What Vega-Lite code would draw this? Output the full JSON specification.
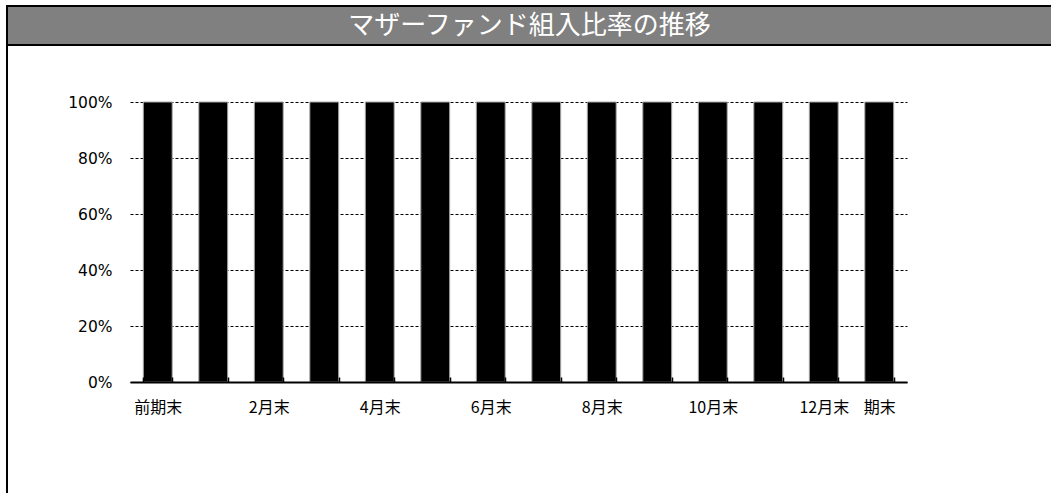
{
  "$schema": "https://vega.github.io/schema/vega-lite/v6.json",
  "description": "マザーファンド組入比率の推移",
  "padding": {"left": 6, "top": 5, "right": 0, "bottom": 0},
  "background": "white",
  "config": {
    "view": {"stroke": null},
    "concat": {"spacing": 0},
    "font": "Noto Sans CJK JP"
  },
  "datasets": {
    "ratio": [
      {"month": "前期末", "ratio": 1},
      {"month": "1月末", "ratio": 1},
      {"month": "2月末", "ratio": 1},
      {"month": "3月末", "ratio": 1},
      {"month": "4月末", "ratio": 1},
      {"month": "5月末", "ratio": 1},
      {"month": "6月末", "ratio": 1},
      {"month": "7月末", "ratio": 1},
      {"month": "8月末", "ratio": 1},
      {"month": "9月末", "ratio": 1},
      {"month": "10月末", "ratio": 1},
      {"month": "11月末", "ratio": 1},
      {"month": "12月末", "ratio": 1},
      {"month": "期末", "ratio": 1}
    ]
  },
  "spacing": 0,
  "hconcat": [
    {
      "width": 2,
      "height": 488,
      "view": {"fill": "black"},
      "data": {"values": []},
      "mark": "rect",
      "encoding": {}
    },
    {
      "spacing": 0,
      "vconcat": [
        {
          "width": 1043,
          "height": 2,
          "view": {"fill": "black"},
          "data": {"values": []},
          "mark": "rect",
          "encoding": {}
        },
        {
          "width": 1043,
          "height": 37,
          "view": {"fill": "#808080"},
          "data": {"values": [{"title": "マザーファンド組入比率の推移"}]},
          "mark": {"type": "text", "color": "white", "fontSize": 26, "align": "center", "baseline": "middle"},
          "encoding": {"text": {"field": "title", "type": "nominal"}}
        },
        {
          "width": 1043,
          "height": 2,
          "view": {"fill": "black"},
          "data": {"values": []},
          "mark": "rect",
          "encoding": {}
        },
        {
          "spacing": 0,
          "hconcat": [
            {
              "width": 59,
              "height": 1,
              "data": {"values": []},
              "mark": "rect",
              "encoding": {}
            },
            {
              "width": 777,
              "height": 336,
              "data": {"name": "ratio"},
              "mark": {"type": "bar", "color": "black", "stroke": "#a6a6a6", "strokeWidth": 1},
              "encoding": {
                "x": {
                  "field": "month",
                  "type": "nominal",
                  "sort": null,
                  "scale": {"paddingInner": 0.48, "paddingOuter": 0.24},
                  "axis": {
                    "title": null,
                    "grid": false,
                    "zindex": 1,
                    "labelAngle": 0,
                    "labelFontSize": 16,
                    "labelColor": "black",
                    "labelPadding": 22,
                    "labelOverlap": false,
                    "labelExpr": "indexof(['1月末','3月末','5月末','7月末','9月末','11月末'], datum.value) >= 0 ? '' : datum.label",
                    "domainColor": "black",
                    "domainWidth": 2,
                    "tickColor": "black",
                    "tickWidth": 1.5,
                    "tickSize": -5,
                    "tickBand": "extent"
                  }
                },
                "y": {
                  "field": "ratio",
                  "type": "quantitative",
                  "scale": {"domain": [0, 1.2], "nice": false},
                  "axis": {
                    "title": null,
                    "values": [0, 0.2, 0.4, 0.6, 0.8, 1],
                    "format": ".0%",
                    "domain": false,
                    "ticks": false,
                    "tickSize": 0,
                    "labelPadding": 18,
                    "labelFont": "DejaVu Sans",
                    "labelFontSize": 15.5,
                    "labelColor": "black",
                    "gridColor": "black",
                    "gridDash": [3, 2],
                    "gridWidth": 1
                  }
                }
              }
            }
          ]
        }
      ]
    }
  ]
}
